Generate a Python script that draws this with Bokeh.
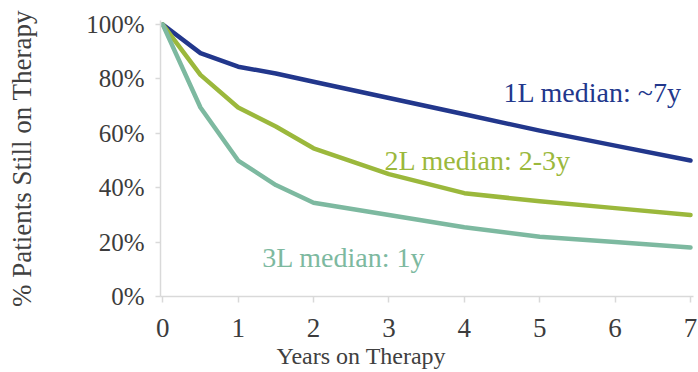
from bokeh.plotting import figure
from bokeh.models import Range1d, FixedTicker, PrintfTickFormatter, Label, Title
from bokeh.embed import file_html
from bokeh.resources import INLINE

# Years on therapy and share of patients still on therapy (%) per line of treatment
years = [0, 0.5, 1, 1.5, 2, 3, 4, 5, 6, 7]
first_line = [100, 89.5, 84.5, 82, 79, 73, 67, 61, 55.5, 50]
second_line = [100, 81.5, 69.5, 62.5, 54.5, 45, 38, 35, 32.5, 30]
third_line = [100, 69.5, 50, 41, 34.5, 30, 25.5, 22, 20, 18]

series_names = ["1L median: ~7y", "2L median: 2-3y", "3L median: 1y"]
series_values = [first_line, second_line, third_line]
series_colors = ["#22378c", "#9bb83c", "#7db9a0"]

x_ticks = [0, 1, 2, 3, 4, 5, 6, 7]
y_ticks = [0, 20, 40, 60, 80, 100]

FONT = "Liberation Serif"
TICK_COLOR = "#3c3c3c"
TITLE_COLOR = "#404040"
AXIS_GRAY = "#d9d9d9"

p = figure(
    width=698, height=372,
    x_range=Range1d(-0.03, 7.04), y_range=Range1d(0, 101.5),
    output_backend="svg", toolbar_location=None,
    min_border_left=160, min_border_right=5,
    min_border_top=20, min_border_bottom=76,
)
p.outline_line_color = None
p.xgrid.grid_line_color = None
p.ygrid.grid_line_color = None

for vals, color in zip(series_values, series_colors):
    p.line(years, vals, line_color=color, line_width=4.5,
           line_cap="round", line_join="round")

# axes
p.xaxis.ticker = FixedTicker(ticks=x_ticks)
p.yaxis.ticker = FixedTicker(ticks=y_ticks)
p.yaxis.formatter = PrintfTickFormatter(format="%d%%")
for ax in (p.xaxis, p.yaxis):
    ax.axis_line_color = AXIS_GRAY
    ax.axis_line_width = 1.5
    ax.major_tick_line_color = AXIS_GRAY
    ax.major_tick_line_width = 1.5
    ax.minor_tick_line_color = None
    ax.major_tick_in = 0
    ax.major_label_text_font = FONT
    ax.major_label_text_color = TICK_COLOR
p.xaxis.major_tick_out = 6
p.xaxis.major_label_standoff = 16
p.xaxis.major_label_text_font_size = "27px"
p.yaxis.major_tick_out = 5
p.yaxis.major_label_standoff = 11
p.yaxis.major_label_text_font_size = "25px"

# y-axis title
p.yaxis.axis_label = "% Patients Still on Therapy"
p.yaxis.axis_label_text_font = FONT
p.yaxis.axis_label_text_font_size = "27px"
p.yaxis.axis_label_text_font_style = "normal"
p.yaxis.axis_label_text_color = TITLE_COLOR
p.yaxis.axis_label_standoff = 46

# x-axis title, set a little left of the frame centre
p.add_layout(Title(text="Years on Therapy", align="left", offset=116,
                   text_font=FONT, text_font_size="24px",
                   text_font_style="normal", text_color=TITLE_COLOR,
                   standoff=3), "below")

# series annotations
label_pos = [(4.52, 75.2), (2.94, 50.1), (1.32, 14.4)]
for name, (lx, ly), color in zip(series_names, label_pos, series_colors):
    p.add_layout(Label(x=lx, y=ly, text=name, text_font=FONT,
                       text_font_size="28px", text_color=color,
                       text_align="left", text_baseline="alphabetic"))

open("out.html", "w").write(file_html(p, INLINE))
